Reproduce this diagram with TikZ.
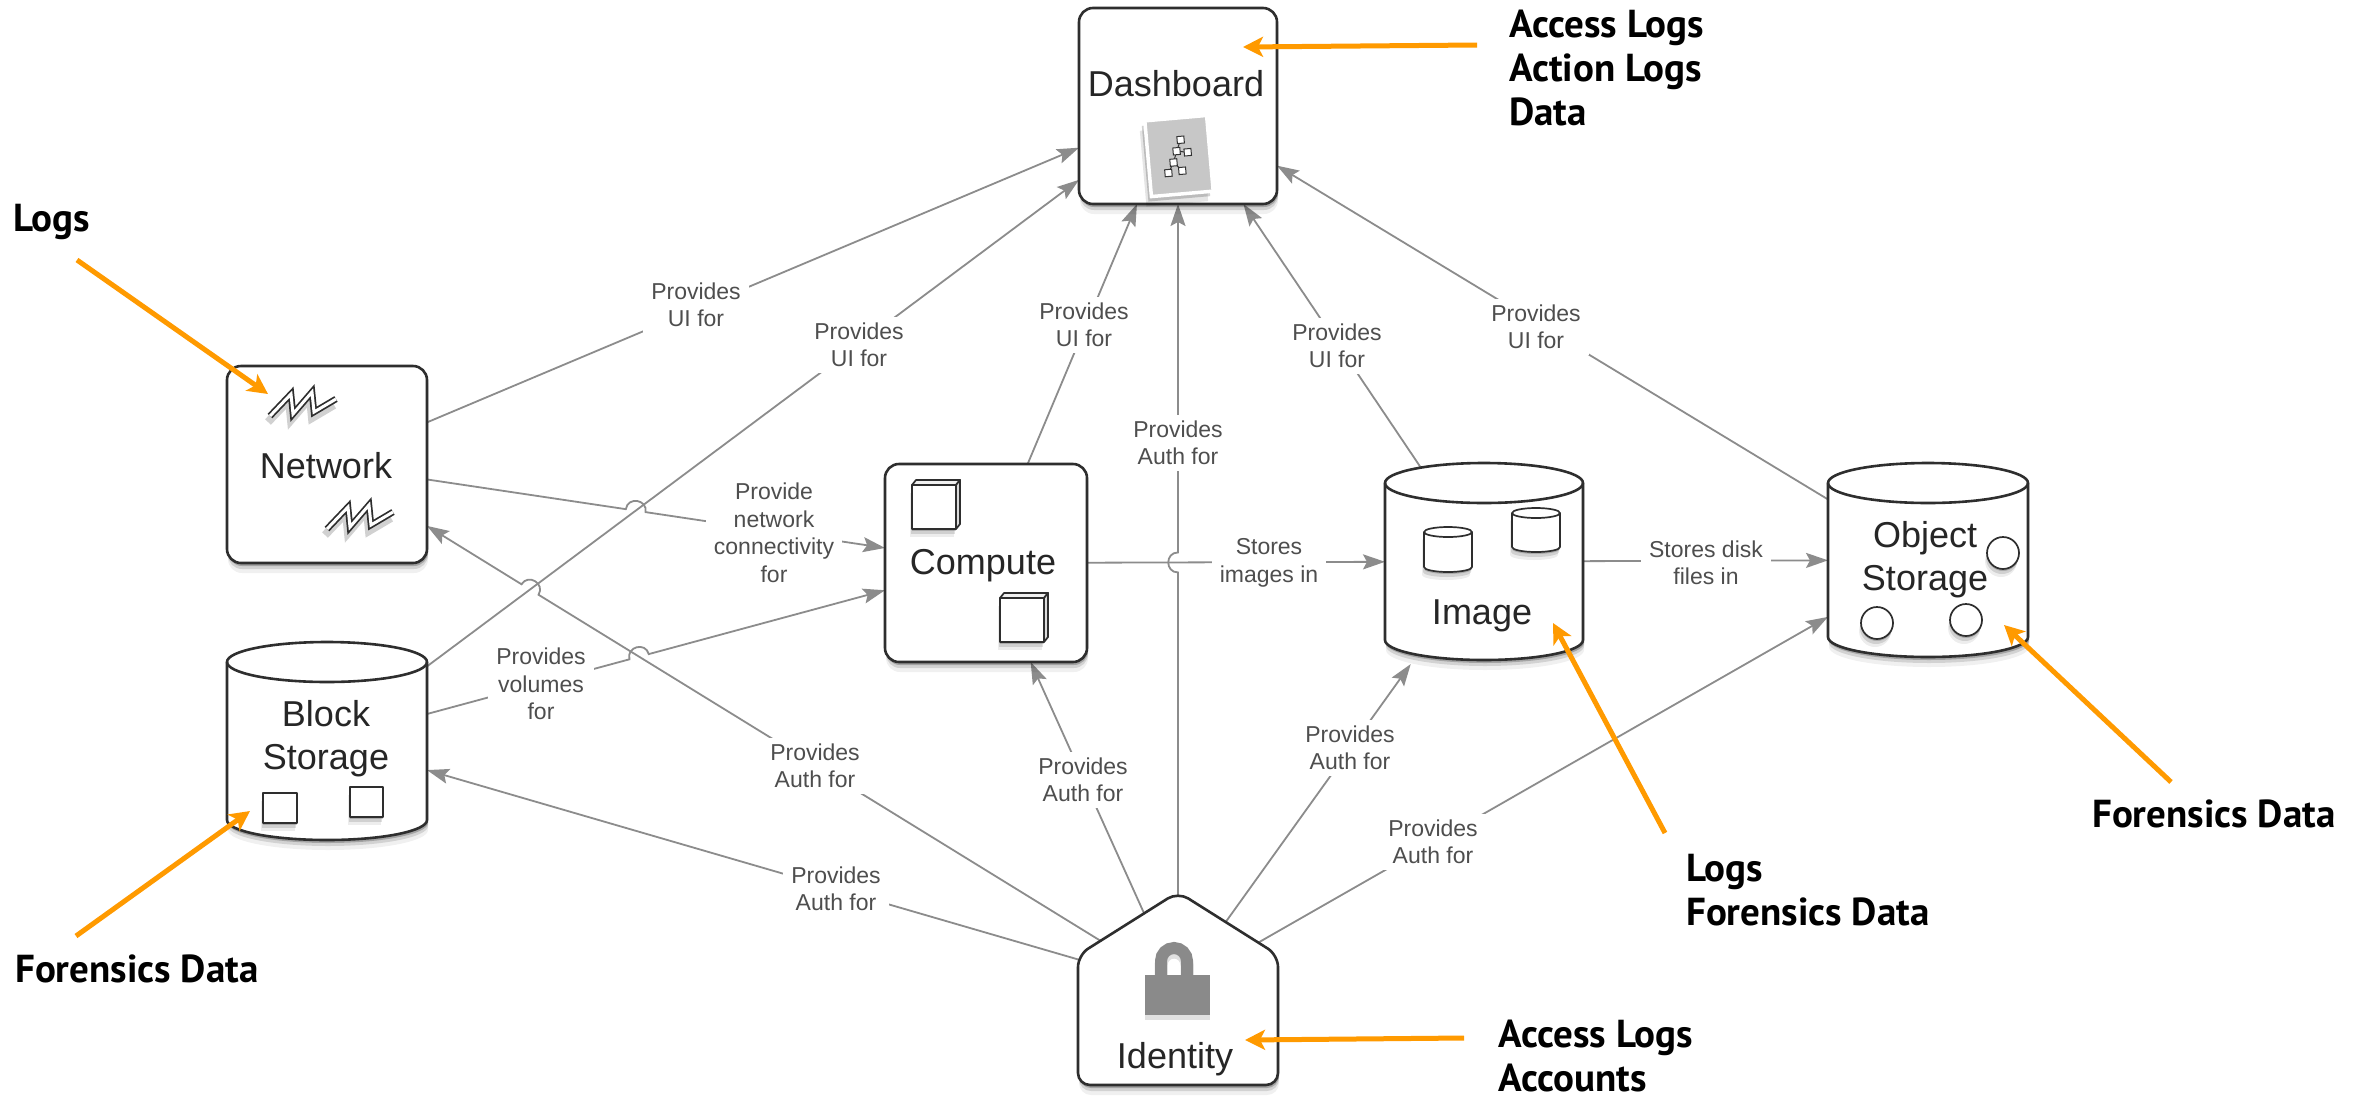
\documentclass[tikz,border=0pt]{standalone}
\usepackage{fontspec}
\setmainfont{Liberation Sans}
\newfontfamily\annotfont{PT Sans}
\usetikzlibrary{arrows.meta,calc,intersections}

\definecolor{edgegray}{HTML}{8C8C8C}
\definecolor{labgray}{HTML}{4E4E4E}
\definecolor{inkdark}{HTML}{2E2E2E}
\definecolor{callout}{HTML}{FF9A00}
\definecolor{lockgray}{HTML}{8A8A8A}

\pgfdeclarelayer{backdrop}
\pgfdeclarelayer{edges}
\pgfsetlayers{backdrop,edges,main}

\tikzset{
  slot/.style={rectangle, inner sep=0pt, outer sep=0pt},
  shade3/.style={
    preaction={fill=black,opacity=.06,transform canvas={xshift=1pt,yshift=-10pt}},
    preaction={fill=black,opacity=.12,transform canvas={xshift=1pt,yshift=-6pt}},
    preaction={fill=black,opacity=.22,transform canvas={xshift=1pt,yshift=-3pt}}},
  smallshade/.style={
    preaction={fill=black,opacity=.07,transform canvas={xshift=-2pt,yshift=-8pt}},
    preaction={fill=black,opacity=.12,transform canvas={xshift=-1pt,yshift=-5pt}},
    preaction={fill=black,opacity=.18,transform canvas={yshift=-2pt}}},
  svcbox/.style={slot, draw=inkdark, line width=2.6pt, fill=white, rounded corners=14pt, shade3},
  svcshape/.style={draw=inkdark, line width=2.6pt, fill=white, shade3},
  trim/.style={draw=inkdark, line width=1.7pt, fill=white, line join=round},
  svctext/.style={font=\fontsize{36}{43}\selectfont, text=black!85, inner sep=0pt, align=center},
  link/.style={draw=edgegray, line width=1.8pt, -{Stealth[length=22pt,width=15pt,inset=4pt]}},
  linklabel/.style={font=\fontsize{23}{27.5}\selectfont, text=labgray, fill=white, align=center,
    inner xsep=8pt, inner ysep=6pt},
  callarrow/.style={draw=callout, line width=5pt, -{Stealth[length=20pt,width=20pt,inset=5pt]}},
  calltext/.style={font=\annotfont\bfseries\fontsize{39}{44}\selectfont, align=left,
    anchor=north west, inner sep=0pt},
}

% storage drum: slot name, half height, half width
\newcommand\drum[3]{%
  \begin{scope}[shift={(#1.center)}]
    \path[svcshape] (-#3,-#2+20) -- (-#3,#2-20)
      arc[start angle=180,end angle=360,x radius=#3pt,y radius=20pt]
      -- (#3,-#2+20)
      arc[start angle=0,end angle=180,x radius=#3pt,y radius=20pt] -- cycle;
    \draw[draw=inkdark, line width=2.6pt] (-#3,-#2+20)
      arc[start angle=180,end angle=360,x radius=#3pt,y radius=20pt];
  \end{scope}}

% small can inside the image store: centre x, top y, bottom y
\newcommand\can[3]{%
  \path[trim, smallshade] (#1-24,#2) -- (#1-24,#3)
    arc[start angle=180,end angle=360,x radius=24pt,y radius=5pt]
    -- (#1+24,#2) arc[start angle=0,end angle=180,x radius=24pt,y radius=5pt] -- cycle;
  \draw[draw=inkdark, line width=1.7pt] (#1-24,#2)
    arc[start angle=180,end angle=360,x radius=24pt,y radius=5pt];}

% server cube: centre x, centre y
\newcommand\cube[2]{%
  \begin{scope}[shift={(#1,#2)}]
    \path[trim, smallshade] (-24,-20) rectangle (20,24);
    \draw[trim, fill=black!6] (-24,-20) -- (-20,-25) -- (24,-25) -- (20,-20) -- cycle;
    \draw[trim, fill=black!14] (20,-20) -- (24,-25) -- (24,19) -- (20,24) -- cycle;
  \end{scope}}

% network bolt: centre x, centre y
\newcommand\bolt[2]{%
  \begin{scope}[shift={(#1,#2)}]
    \draw[black, opacity=.18, line width=8pt, line join=miter, transform canvas={xshift=-2pt,yshift=-6pt}]
      (-33,11) -- (-12,-11) -- (-10,9) -- (9,-13) -- (11,7) -- (33,-6);
    \draw[inkdark, line width=6.5pt, line join=miter] (-33,11) -- (-12,-11) -- (-10,9) -- (9,-13) -- (11,7) -- (33,-6);
    \draw[white, line width=3pt, line join=miter] (-33,11) -- (-12,-11) -- (-10,9) -- (9,-13) -- (11,7) -- (33,-6);
  \end{scope}}

\begin{document}
\begin{tikzpicture}[x=1pt,y=-1pt]
\begin{pgfonlayer}{backdrop}
  \fill[white] (0,0) rectangle (2371,1098);
\end{pgfonlayer}
\useasboundingbox (0,0) rectangle (2371,1098);

% ---------- services ----------
\node[svcbox, minimum width=198pt, minimum height=196pt] (dash) at (1178,106) {};
\node[svcbox, minimum width=200pt, minimum height=197pt] (net) at (327,464.5) {};
\node[svcbox, minimum width=202pt, minimum height=198pt] (comp) at (986,563) {};
\node[slot, minimum width=198pt, minimum height=197pt] (img) at (1484,561.5) {};
\node[slot, minimum width=200pt, minimum height=194pt] (obj) at (1928,560) {};
\node[slot, minimum width=200pt, minimum height=198pt] (blk) at (327,741) {};
\node[slot, minimum width=200pt, minimum height=193pt] (id) at (1178,988.5) {};

\drum{img}{98.5}{99}
\drum{obj}{97}{100}
\drum{blk}{99}{100}

\begin{scope}[shift={(id.center)}]
  \path[svcshape, rounded corners=12pt] (-100,96.5) -- (-100,-33.5) -- (0,-96.5)
    -- (100,-33.5) -- (100,96.5) -- cycle;
\end{scope}

% ---------- connectors ----------
\begin{pgfonlayer}{edges}
  \path[name path=pBD] (blk.center) -- (dash.center);
  \path[name path=pNC] (net.center) -- (comp.center);
  \path[name path=pIN] (id.center) -- (net.center);
  \path[name path=pBC] (blk.center) -- (comp.center);
  \path[name path=pID] (id.center) -- (dash.center);
  \path[name path=pCI] (comp.center) -- (img.center);
  \path[name intersections={of=pBD and pNC, by=hopA}];
  \path[name intersections={of=pBD and pIN, by=hopB}];
  \path[name intersections={of=pIN and pBC, by=hopC}];
  \path[name intersections={of=pID and pCI, by=hopD}];

  \draw[link] (net.center) -- (dash);
  \draw[link] (blk.center) -- (dash);
  \draw[link] (comp.center) -- (dash);
  \draw[link] (img.center) -- (dash);
  \draw[link] (obj.center) -- (dash);
  \draw[link] (id.center) -- ($(hopD)!10pt!(id.center)$)
    .. controls ($(hopD)!10pt!(id.center)!13pt!90:(hopD)$) and ($(hopD)!10pt!(dash.center)!13pt!-90:(hopD)$)
    .. ($(hopD)!10pt!(dash.center)$) -- (dash);
  \draw[link] (net.center) -- ($(hopA)!10pt!(net.center)$)
    .. controls ($(hopA)!10pt!(net.center)!13pt!90:(hopA)$) and ($(hopA)!10pt!(comp.center)!13pt!-90:(hopA)$)
    .. ($(hopA)!10pt!(comp.center)$) -- (comp);
  \draw[link] (blk.center) -- ($(hopC)!10pt!(blk.center)$)
    .. controls ($(hopC)!10pt!(blk.center)!13pt!90:(hopC)$) and ($(hopC)!10pt!(comp.center)!13pt!-90:(hopC)$)
    .. ($(hopC)!10pt!(comp.center)$) -- (comp);
  \draw[link] (id.center) -- ($(hopB)!10pt!(id.center)$)
    .. controls ($(hopB)!10pt!(id.center)!13pt!-90:(hopB)$) and ($(hopB)!10pt!(net.center)!13pt!90:(hopB)$)
    .. ($(hopB)!10pt!(net.center)$) -- (net);
  \draw[link] (id.center) -- (comp);
  \draw[link] (id.center) -- (blk);
  \draw[link, shorten >=5pt] (id.center) -- (img);
  \draw[link] (id.center) -- (obj);
  \draw[link] (comp.center) -- (img);
  \draw[link] (img.center) -- (obj);
\end{pgfonlayer}

% ---------- icons ----------
% dashboard card
\begin{scope}[shift={(1179,156)}, rotate=5]
  \path[fill=black!22, draw=white, line width=3.5pt,
    preaction={fill=black,opacity=.10,transform canvas={xshift=-5pt,yshift=-10pt}},
    preaction={fill=black,opacity=.18,transform canvas={xshift=-3pt,yshift=-5pt}}]
    (-31,-38) rectangle (31,38);
  \draw[black!80, line width=1pt] (3,-16) -- (-2,-5) -- (-6,6) -- (-12,16)
    (-2,-5) -- (9,-3) (-6,6) -- (2,15);
  \foreach \p in {(3,-16),(-2,-5),(9,-3),(-6,6),(-12,16),(2,15)}
    \draw[black!80, fill=white, line width=1pt] \p ++(-3.5,-3.5) rectangle ++(7,7);
\end{scope}

\bolt{303}{405}
\bolt{360}{518}

\cube{936}{505}
\cube{1024}{618}

\can{1448}{532}{567}
\can{1536}{513}{547}

\foreach \c in {(2003,553),(1877,623),(1966,620)}
  \path[trim, smallshade] \c circle[radius=16pt];

\path[trim, smallshade] (263,793) rectangle (297,823);
\path[trim, smallshade] (350,787) rectangle (383,817);

% lock
\draw[black, opacity=.12, line width=13pt, transform canvas={yshift=-4pt}]
  (1161,980) -- (1161,961) arc[start angle=180,end angle=0,radius=13pt] -- (1187,980);
\draw[lockgray, line width=12pt] (1161,980) -- (1161,961) arc[start angle=180,end angle=0,radius=13pt] -- (1187,980);
\fill[lockgray, preaction={fill=black,opacity=.12,transform canvas={yshift=-5pt}}] (1145,975) rectangle (1210,1015);

% ---------- service names ----------
\node[svctext] (dash-t) at (1176,84) {Dashboard};
\node[svctext] (net-t) at (326,466) {Network};
\node[svctext] (comp-t) at (983,566) {Compute};
\node[svctext] (img-t) at (1482,616) {Image};
\node[svctext] (obj-t) at (1925,560) {Object\\Storage};
\node[svctext] (blk-t) at (326,739) {Block\\Storage};
\node[svctext] (id-t) at (1175,1059) {Identity};

% ---------- connector labels ----------
\node[linklabel] (l1) at (696,305) {Provides\\UI for};
\node[linklabel] (l2) at (859,345) {Provides\\UI for};
\node[linklabel] (l3) at (1084,325) {Provides\\UI for};
\node[linklabel] (l4) at (1178,443) {Provides\\Auth for};
\node[linklabel] (l5) at (1337,346) {Provides\\UI for};
\node[linklabel] (l6) at (1536,327) {Provides\\UI for};
\node[linklabel] (l7) at (774,533) {Provide\\network\\connectivity\\for};
\node[linklabel] (l8) at (541,684) {Provides\\volumes\\for};
\node[linklabel] (l9) at (815,766) {Provides\\Auth for};
\node[linklabel] (l10) at (1083,780) {Provides\\Auth for};
\node[linklabel] (l11) at (836,889) {Provides\\Auth for};
\node[linklabel] (l12) at (1350,748) {Provides\\Auth for};
\node[linklabel] (l13) at (1433,842) {Provides\\Auth for};
\node[linklabel] (l14) at (1269,563) {Stores\\images in};
\node[linklabel] (l15) at (1706,563) {Stores disk\\files in};

% ---------- callouts ----------
\node[calltext] (n1) at (1509,10) {Access Logs\\Action Logs\\Data};
\node[calltext] (n2) at (13,204) {Logs};
\node[calltext] (n3) at (15,955) {Forensics Data};
\node[calltext] (n4) at (1686,854) {Logs\\Forensics Data};
\node[calltext] (n5) at (2092,800) {Forensics Data};
\node[calltext] (n6) at (1498,1020) {Access Logs\\Accounts};

\coordinate (c1s) at (1477,45);   \coordinate (c1e) at (1243,47);
\coordinate (c2s) at (77,260);    \coordinate (c2e) at (268,394);
\coordinate (c3s) at (76,936);    \coordinate (c3e) at (250,811);
\coordinate (c4s) at (1665,833);  \coordinate (c4e) at (1553,623);
\coordinate (c5s) at (2171,782);  \coordinate (c5e) at (2004,625);
\coordinate (c6s) at (1464,1038); \coordinate (c6e) at (1245,1040);
\draw[callarrow] (c1s) -- (c1e);
\draw[callarrow] (c2s) -- (c2e);
\draw[callarrow] (c3s) -- (c3e);
\draw[callarrow] (c4s) -- (c4e);
\draw[callarrow] (c5s) -- (c5e);
\draw[callarrow] (c6s) -- (c6e);
\end{tikzpicture}
\end{document}
